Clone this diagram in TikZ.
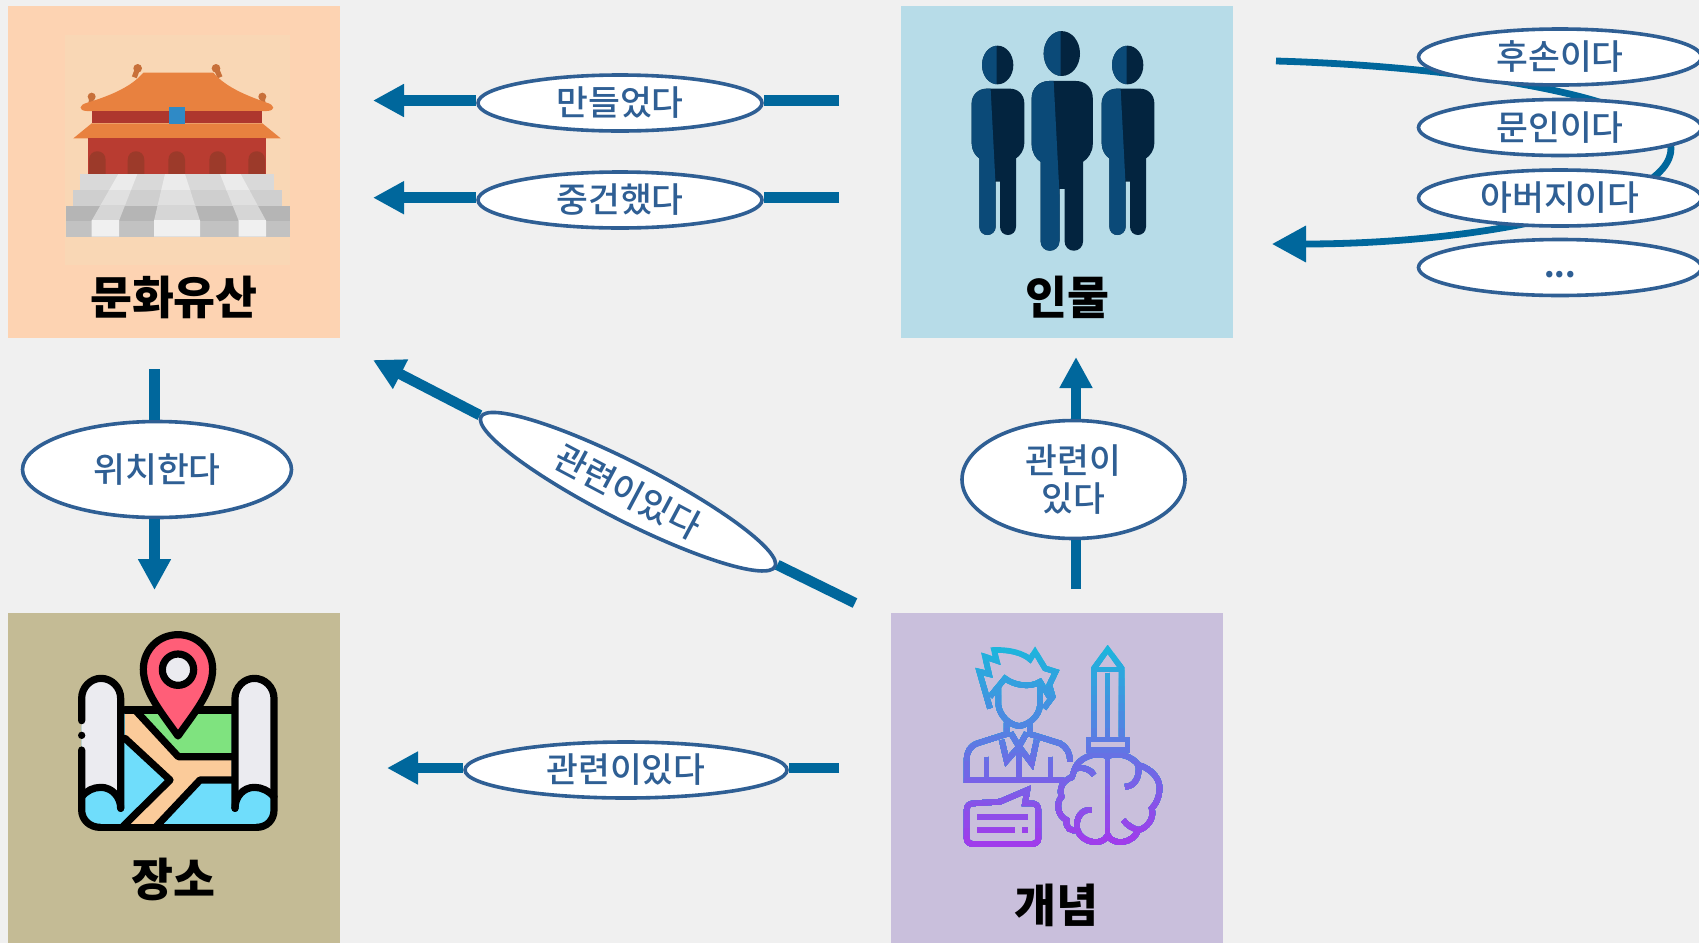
\documentclass[tikz,border=0pt]{standalone}
\usepackage{fontspec}
\newfontfamily\kr{Noto Sans CJK KR}
\newfontfamily\krm[UprightFont=* Medium]{Noto Sans CJK KR}
\usetikzlibrary{arrows.meta,shapes.geometric}
\definecolor{bgc}{HTML}{F0F0F0}
\definecolor{conn}{HTML}{00679C}
\definecolor{labc}{HTML}{2F5F94}
\definecolor{cA}{HTML}{FDD3B2}
\definecolor{cB}{HTML}{B7DCE8}
\definecolor{cC}{HTML}{C4BB95}
\definecolor{cD}{HTML}{C9BFDC}
\definecolor{gradT}{HTML}{1DB5DC}
\definecolor{gradB}{HTML}{A03CEB}
\definecolor{dkP}{HTML}{03243F}
\definecolor{ltP}{HTML}{0B4A78}
\definecolor{backA}{HTML}{F9D7B5}
\definecolor{roofc}{HTML}{E8813F}
\definecolor{finc}{HTML}{C8703A}
\definecolor{wallc}{HTML}{B93C31}
\definecolor{bandc}{HTML}{AE372E}
\definecolor{archc}{HTML}{9C3A2A}
\definecolor{bluec}{HTML}{2F8AC6}
\definecolor{mapblue}{HTML}{6FDDFB}
\definecolor{mapgreen}{HTML}{7FE37F}
\definecolor{mappeach}{HTML}{FBCB9A}
\definecolor{mapwhite}{HTML}{EBEBF0}
\definecolor{mappin}{HTML}{FF5E78}
\tikzset{
  catbox/.style={rectangle,draw=none,minimum width=166pt,minimum height=166pt,inner sep=0pt},
  cattitle/.style={font=\kr\bfseries\fontsize{22.8}{26}\selectfont,text=black,inner sep=0pt},
  lab/.style={ellipse,draw=labc,line width=1.8pt,fill=white,inner sep=0pt,text=labc,align=center,
    font=\krm\fontsize{17.3}{19}\selectfont},
  connline/.style={draw=conn,line width=5.25pt},
  connarrow/.style={draw=conn,line width=5.25pt,-{Triangle[length=15.5pt,width=15.5pt,fill=conn]}},
  curvearrow/.style={draw=conn,line width=3.4pt,-{Triangle[length=17pt,width=17.5pt,fill=conn]}},
  icon/.style={x=0.16667pt,y=-0.16667pt},
  mapline/.style={draw=black,line width=3.6pt,line cap=round,line join=round},
}
\newcommand{\personbody}[1]{\fill[#1] (215,310) .. controls (215,285) and (235,266) .. (260,266) -- (330,266) .. controls (355,266) and (373,285) .. (373,310) -- (373,430) .. controls (373,450) and (360,468) .. (348,475) -- (348,680) .. controls (348,695) and (337,705) .. (324,705) .. controls (311,705) and (300,695) .. (300,680) -- (300,545) -- (287,545) -- (287,680) .. controls (287,695) and (275,705) .. (262,705) .. controls (249,705) and (238,695) .. (238,680) -- (238,475) .. controls (226,468) and (215,450) .. (215,430) -- cycle;}
\newcommand{\persondraw}{%
  \personbody{dkP}
  \begin{scope}\clip (200,250) -- (271,250) -- (287,560) -- (287,720) -- (200,720) -- cycle; \personbody{ltP}\end{scope}
  \fill[dkP] (293,195) ellipse[x radius=47,y radius=58];
  \begin{scope}\clip (200,120) rectangle (290,260); \fill[ltP] (293,195) ellipse[x radius=47,y radius=58];\end{scope}
}
\newcommand{\palacestrips}[1]{\fill[#1] (355,522) -- (412,522) -- (357,662) -- (357,710) -- (275,710) -- (275,662) -- cycle;
  \fill[#1] (495,522) -- (555,522) -- (600,662) -- (600,710) -- (462,710) -- (462,662) -- cycle;
  \fill[#1] (660,522) -- (722,522) -- (798,662) -- (798,710) -- (716,710) -- (716,662) -- cycle;}
\newcommand{\conceptstrokes}[1]{%
  \begin{scope}[line width=2.8pt]
  \draw[#1] (300,325) -- (268,215) -- (297,222) -- (285,170) -- (320,182) -- (312,150) .. controls (360,148) and (400,160) .. (420,178) -- (435,155) -- (465,205) -- (497,215) -- (478,255) -- (488,290) -- (462,325);
  \draw[#1] (300,290) -- (345,235) .. controls (370,255) and (420,265) .. (450,245) -- (478,290);
  \draw[#1] (325,262) -- (325,315) .. controls (330,350) and (360,375) .. (387,378) .. controls (415,375) and (448,350) .. (450,315) -- (450,250);
  \draw[#1] (350,368) -- (350,402) -- (262,430) .. controls (240,438) and (230,455) .. (230,480) -- (230,540) -- (520,540);
  \draw[#1] (420,368) -- (420,402) -- (510,430) .. controls (530,440) and (540,460) .. (540,485);
  \draw[#1] (335,420) -- (350,482) -- (387,440) -- (425,490) -- (440,420);
  \draw[#1] (362,398) -- (387,440) -- (410,398);
  \draw[#1] (387,440) -- (387,538);
  \draw[#1] (290,470) -- (290,535);
  \draw[#1] (482,470) -- (482,535);
  \draw[#1] (612,410) -- (612,205) -- (653,148) -- (695,205) -- (695,410);
  \draw[#1] (612,208) -- (695,208);
  \draw[#1] (653,218) -- (653,415);
  \draw[#1] (595,450) -- (595,418) -- (712,418) -- (712,450) -- cycle;
  \draw[#1] (653,455) -- (653,705);
  \draw[#1] (653,470) .. controls (630,455) and (580,465) .. (560,495) .. controls (550,510) and (550,525) .. (545,532) .. controls (520,540) and (505,565) .. (515,590) .. controls (495,610) and (505,650) .. (530,660) .. controls (525,685) and (545,695) .. (562,690) .. controls (575,730) and (640,740) .. (653,705);
  \draw[#1] (653,470) .. controls (675,455) and (725,465) .. (745,495) .. controls (785,505) and (815,540) .. (808,575) .. controls (805,600) and (795,615) .. (785,625) .. controls (795,655) and (770,685) .. (745,690) .. controls (730,730) and (670,740) .. (653,705);
  \draw[#1] (558,505) .. controls (580,500) and (605,510) .. (612,525);
  \draw[#1] (605,630) .. controls (575,625) and (555,655) .. (562,690);
  \draw[#1] (705,560) .. controls (735,560) and (750,530) .. (745,495);
  \draw[#1] (700,660) .. controls (715,680) and (730,685) .. (745,690);
  \draw[#1] (250,610) -- (330,605) -- (412,570) -- (405,610) -- (425,610) .. controls (438,610) and (445,618) .. (445,630) -- (445,715) .. controls (445,725) and (438,732) .. (425,732) -- (250,732) .. controls (238,732) and (230,725) .. (230,715) -- (230,630) .. controls (230,618) and (238,610) .. (250,610);
  \draw[#1,line width=3pt] (262,651) -- (415,651);
  \draw[#1,line width=3pt] (262,690) -- (375,690);
  \draw[#1,line width=3pt] (397,690) -- (415,690);
  \end{scope}}
\begin{document}
\begin{tikzpicture}[x=0.5pt,y=-0.5pt]
\useasboundingbox (0,0) rectangle (1699,943);
\fill[bgc] (0,0) rectangle (1699,943);
% category boxes
\node[catbox,fill=cA] (heritage) at (174,172) {};
\node[catbox,fill=cB] (people) at (1067,172) {};
\node[catbox,fill=cC,minimum height=165pt] (place) at (174,778) {};
\node[catbox,fill=cD,minimum height=165pt] (concept) at (1057,778) {};
% palace icon
\begin{scope}[icon]
  \fill[backA] (195,105) rectangle (870,795);
  \fill[finc] (413,205) circle[radius=13]; \fill[finc] (648,205) circle[radius=13];
  \fill[finc] (275,290) circle[radius=12]; \fill[finc] (787,290) circle[radius=12];
  \draw[finc,line width=2.6pt] (403,232) -- (412,208); \draw[finc,line width=2.6pt] (660,232) -- (650,208);
  \draw[finc,line width=2.4pt] (272,315) -- (275,292); \draw[finc,line width=2.4pt] (790,315) -- (787,292);
  \fill[roofc] (430,218) -- (640,218) .. controls (680,265) and (750,290) .. (800,308) .. controls (825,315) and (828,332) .. (800,333) -- (260,333) .. controls (235,332) and (235,315) .. (262,308) .. controls (320,290) and (390,265) .. (430,218) -- cycle;
  \fill[bandc] (275,333) rectangle (787,370);
  \fill[roofc] (275,370) -- (787,370) -- (842,415) -- (220,415) -- cycle;
  \fill[wallc] (263,415) rectangle (798,522);
  \foreach \ax in {292,408,530,653,770}{
    \fill[archc] (\ax-25,522) -- (\ax-25,480) .. controls (\ax-25,445) and (\ax+25,445) .. (\ax+25,480) -- (\ax+25,522) -- cycle;}
  \fill[bluec] (508,322) rectangle (555,372);
  \fill[gray!30!white] (240,522) rectangle (822,570);
  \fill[gray!38!white] (220,570) rectangle (845,617);
  \fill[gray!58!white] (198,617) rectangle (870,662);
  \fill[gray!48!white] (198,662) rectangle (870,710);
  \begin{scope}\clip (198,522) rectangle (870,570); \palacestrips{black!8!white}\end{scope}
  \begin{scope}\clip (198,570) rectangle (870,617); \palacestrips{black!12!white}\end{scope}
  \begin{scope}\clip (198,617) rectangle (870,662); \palacestrips{black!16!white}\end{scope}
  \begin{scope}\clip (198,662) rectangle (870,710); \palacestrips{black!6!white}\end{scope}
\end{scope}
% people icon
\begin{scope}[icon,xshift=450pt]
  \persondraw
  \begin{scope}[shift={(390,0)}]\persondraw\end{scope}
  \begin{scope}[shift={(145.6,-65.6)},scale=1.16]\persondraw\end{scope}
\end{scope}
% map icon
\begin{scope}[icon,yshift=-300pt]
  \fill[mapblue] (300,330) -- (770,330) .. controls (800,330) and (822,350) .. (822,380) -- (822,630) .. controls (822,660) and (800,680) .. (770,680) -- (300,680) .. controls (270,680) and (245,660) .. (245,630) -- (245,380) .. controls (245,350) and (270,330) .. (300,330) -- cycle;
  \fill[mapgreen] (420,335) -- (695,335) -- (695,465) -- (540,465) -- cycle;
  \fill[mappeach] (375,335) -- (415,335) -- (535,470) -- (695,470) -- (695,540) -- (600,540) -- (470,678) -- (385,678) -- (510,540) -- (375,415) -- cycle;
  \draw[mapline] (375,330) -- (695,330);
  \draw[mapline] (300,682) -- (770,682);
  \draw[mapline] (410,335) -- (535,470) -- (695,470);
  \draw[mapline] (695,540) -- (600,540) -- (470,678);
  \draw[mapline] (375,415) -- (510,540) -- (370,678);
  \fill[mapwhite] (245,295) .. controls (245,262) and (272,235) .. (303,235) .. controls (335,235) and (362,262) .. (362,295) -- (362,625) .. controls (362,590) and (335,562) .. (303,562) .. controls (280,562) and (260,572) .. (245,590) -- cycle;
  \fill[mapwhite] (705,295) .. controls (705,262) and (732,235) .. (763,235) .. controls (795,235) and (822,262) .. (822,295) -- (822,590) .. controls (805,572) and (785,562) .. (763,562) .. controls (730,562) and (705,590) .. (705,625) -- cycle;
  \draw[mapline] (362,625) -- (362,295) .. controls (362,262) and (335,235) .. (303,235) .. controls (272,235) and (245,262) .. (245,295) -- (245,362);
  \draw[mapline] (245,450) -- (245,630) .. controls (245,660) and (270,682) .. (300,682);
  \fill[black] (245,406) circle[radius=11];
  \draw[mapline] (245,590) .. controls (260,572) and (280,562) .. (303,562) .. controls (335,562) and (362,590) .. (362,625);
  \draw[mapline] (705,625) -- (705,295) .. controls (705,262) and (732,235) .. (763,235) .. controls (795,235) and (822,262) .. (822,295) -- (822,630) .. controls (822,660) and (800,682) .. (770,682);
  \draw[mapline] (822,590) .. controls (805,572) and (785,562) .. (763,562) .. controls (730,562) and (705,590) .. (705,625);
  \draw[mapline,fill=mappin] (534,408) .. controls (490,345) and (430,275) .. (430,208) .. controls (430,150) and (475,104) .. (534,104) .. controls (593,104) and (638,150) .. (638,208) .. controls (638,275) and (578,345) .. (534,408) -- cycle;
  \draw[mapline,fill=mapwhite] (534,209) circle[radius=47];
\end{scope}
% concept icon, gradient by stepped bands
\begin{scope}[icon,xshift=445pt,yshift=-300pt]
  \foreach \bi in {0,...,23}{
    \pgfmathsetmacro{\by}{135+25*\bi}
    \pgfmathsetmacro{\bp}{100-\bi*100/23}
    \colorlet{bandcol}{gradT!\bp!gradB}
    \begin{scope}\clip (200,\by) rectangle (830,760); \conceptstrokes{bandcol}\end{scope}
  }
\end{scope}
% titles
\node[cattitle] (t1) at (174,297) {문화유산};
\node[cattitle] (t2) at (1067,297) {인물};
\node[cattitle] (t3) at (173,879) {장소};
\node[cattitle] (t4) at (1056,905) {개념};
% free ends
\coordinate (a1s) at (839,100.5); \coordinate (a1t) at (373,100.5);
\coordinate (a2s) at (839,197.7); \coordinate (a2t) at (373,197.7);
\coordinate (a3s) at (154.5,369); \coordinate (a3t) at (154.5,590);
\coordinate (a4s) at (1076,589); \coordinate (a4t) at (1076,357);
\coordinate (a5s) at (855,603); \coordinate (a5t) at (373,360);
\coordinate (a6s) at (839,768); \coordinate (a6t) at (387,768);
\coordinate (cs) at (1276,61); \coordinate (cm) at (1671,148); \coordinate (ct) at (1272,244);
% curved connector behind the right-hand labels
\draw[curvearrow] (cs) .. controls (1450,66) and (1660,95) .. (cm) .. controls (1672,205) and (1480,244) .. (ct);
% labels
\node[lab,minimum width=142pt,minimum height=28pt] (l1) at (620,103) {만들었다};
\node[lab,minimum width=142pt,minimum height=28pt] (l2) at (620,200) {중건했다};
\node[lab,minimum width=134.5pt,minimum height=48pt] (l3) at (157,469.5) {위치한다};
\node[lab,minimum width=111.5pt,minimum height=59pt] (l4) at (1073.5,479.5) {관련이\\있다};
\node[lab,minimum width=165pt,minimum height=29pt,rotate=-27] (l5) at (628,491.7) {\rotatebox{-1}{관련이있다}};
\node[lab,minimum width=161pt,minimum height=28pt] (l6) at (626,770) {관련이있다};
\node[lab,minimum width=141.5pt,minimum height=28pt] (r1) at (1560,57) {후손이다};
\node[lab,minimum width=141.5pt,minimum height=28pt] (r2) at (1560,127.5) {문인이다};
\node[lab,minimum width=141.5pt,minimum height=28pt] (r3) at (1560,198) {아버지이다};
\node[lab,minimum width=141.5pt,minimum height=28pt] (r4) at (1560,267.5) {\raisebox{-5pt}[0pt][0pt]{\kr\bfseries\fontsize{15}{17}\selectfont ...}};
% straight connectors
\draw[connline] (a1s) -- (l1.east |- a1s);
\draw[connarrow] (l1.west |- a1t) -- (a1t);
\draw[connline] (a2s) -- (l2.east |- a2s);
\draw[connarrow] (l2.west |- a2t) -- (a2t);
\draw[connline] (a3s) -- (l3.north -| a3s);
\draw[connarrow] (l3.south -| a3t) -- (a3t);
\draw[connline] (a4s) -- (l4.south -| a4s);
\draw[connarrow] (l4.north -| a4t) -- (a4t);
\draw[connline] (a5s) -- (l5);
\draw[connarrow] (l5) -- (a5t);
\draw[connline] (a6s) -- (l6.east |- a6s);
\draw[connarrow] (l6.west |- a6t) -- (a6t);
\end{tikzpicture}
\end{document}
